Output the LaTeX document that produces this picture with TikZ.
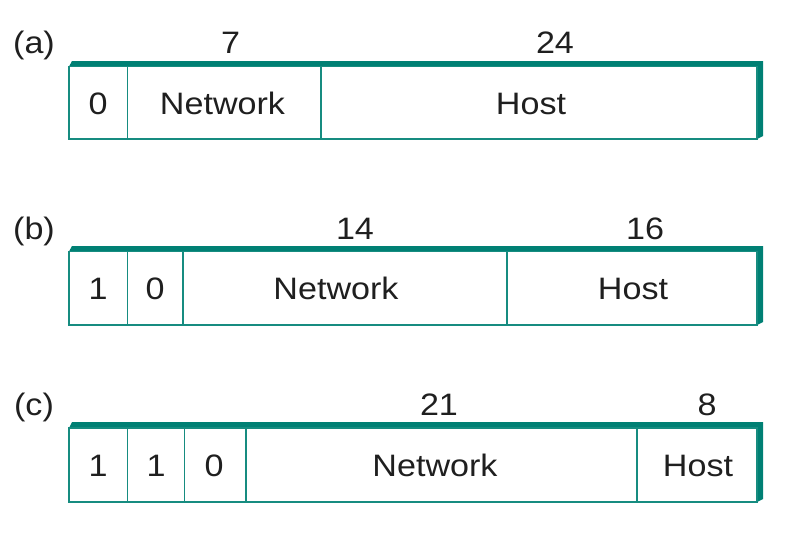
\documentclass[tikz,border=0pt]{standalone}
\usepackage{fontspec}
\setmainfont{Liberation Sans}[FakeStretch=1.1]
\definecolor{frameteal}{RGB}{0,128,116}
\definecolor{lineteal}{RGB}{22,140,128}
\begin{document}
\begin{tikzpicture}[x=1pt,y=-1pt,
  txt/.style={anchor=base,inner sep=0pt,font=\fontsize{31}{37}\selectfont,text=black!88},
  cellline/.style={draw=lineteal,line width=1.4pt},
  rim/.style={fill=frameteal,draw=none}]
\useasboundingbox (0,0) rectangle (809,549);

% one address format: raised rim (top and right), outer box, field dividers
% #1 rim top, #2 box top, #3 box bottom, #4 list of divider x positions
\newcommand{\addrbox}[4]{%
  \path[rim] (69,#2) -- (72,#1) -- (763,#1) -- (763,#3-3) -- (757,#3)
        -- (757,#2) -- cycle;
  \draw[cellline] (69,#2) rectangle (757,#3);
  \foreach \dx in {#4} \draw[cellline] (\dx,#2) -- (\dx,#3);
}

% (a) class A
\addrbox{61}{66.5}{139}{127.5,321}
\node[txt] (la)  at (34,53)   {(a)};
\node[txt] (a7)  at (230.5,53) {7};
\node[txt] (a24) at (555,53)  {24};
\node[txt] (a0)  at (98,114)  {0};
\node[txt] (an)  at (222.5,114) {Network};
\node[txt] (ah)  at (531,114) {Host};

% (b) class B
\addrbox{246}{251.5}{325}{127.5,183,507}
\node[txt] (lb)  at (34,239)  {(b)};
\node[txt] (b14) at (355,239) {14};
\node[txt] (b16) at (645,239) {16};
\node[txt] (b1)  at (98,299)  {1};
\node[txt] (b0)  at (155,299) {0};
\node[txt] (bn)  at (336,299) {Network};
\node[txt] (bh)  at (633,299) {Host};

% (c) class C
\addrbox{422}{428}{502}{127.5,184.5,246,637}
\node[txt] (lc)  at (34,415)  {(c)};
\node[txt] (c21) at (439,415) {21};
\node[txt] (c8)  at (707,415) {8};
\node[txt] (c1)  at (98,476)  {1};
\node[txt] (c1b) at (156,476) {1};
\node[txt] (c0)  at (214,476) {0};
\node[txt] (cn)  at (435,476) {Network};
\node[txt] (ch)  at (698,476) {Host};
\end{tikzpicture}
\end{document}
